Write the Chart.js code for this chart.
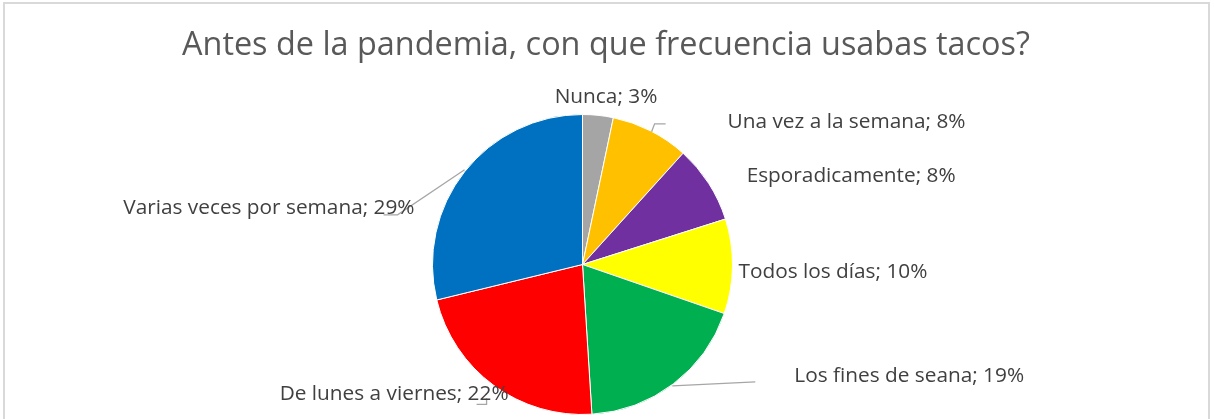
<!DOCTYPE html>
<html lang="es">
<head>
    <meta charset="UTF-8">
    <title>Antes de la pandemia</title>
    <script src="https://cdn.jsdelivr.net/npm/chart.js"></script>
    <style>
        body { margin: 0; background: #fff; }
        #wrap { position: relative; width: 1214px; height: 419px; }
    </style>
</head>
<body>
<div id="wrap">
    <canvas id="pieChart" width="1214" height="419"></canvas>
</div>
<script>
    // datos (porcentajes estimados de los angulos; la etiqueta muestra el redondeo)
    const categories = ['Nunca', 'Una vez a la semana', 'Esporadicamente', 'Todos los días',
        'Los fines de seana', 'De lunes a viernes', 'Varias veces por semana'];
    const percents = [3.3, 8.4, 8.4, 10.2, 18.7, 22.2, 28.8];
    const sliceColors = ['#A5A5A5', '#FFC000', '#7030A0', '#FFFF00', '#00B050', '#FF0000', '#0070C0'];
    const chartTitle = 'Antes de la pandemia, con que frecuencia usabas tacos?';

    // posicion de cada etiqueta, relativa al punto medio exterior de su porcion
    const labelOffsets = [
        {dx: 8, dy: -12, align: 'center'},
        {dx: 77, dy: -3, align: 'left'},
        {dx: 38, dy: -1, align: 'left'},
        {dx: 6, dy: 12, align: 'left'},
        {dx: 121, dy: -2, align: 'left'},
        {dx: 15, dy: 15, align: 'right'},
        {dx: -50, dy: 42, align: 'right'}
    ];
    // lineas guia (tambien relativas al punto medio exterior)
    const leaderLines = [
        null,
        [[1, 1], [4, -7], [15, -7]],
        null,
        null,
        [[-1, 2], [82, -2]],
        [[-7, 13], [-7, 19], [-17, 19]],
        [[0, -2], [-67, 43], [-81, 43]]
    ];

    const labelsPlugin = {
        id: 'excelLabels',
        beforeDraw(chart) {
            const c = chart.ctx;
            c.save();
            c.strokeStyle = '#D9D9D9';
            c.lineWidth = 2;
            c.strokeRect(4, 3, 1205, 430);
            c.restore();
        },
        afterDraw(chart) {
            const c = chart.ctx;
            c.save();
            // titulo
            c.fillStyle = '#595959';
            c.font = '32.4px "Open Sans"';
            c.textAlign = 'center';
            c.textBaseline = 'alphabetic';
            c.fillText(chartTitle, 606, 55);

            const meta = chart.getDatasetMeta(0);
            meta.data.forEach((arc, i) => {
                const mid = (arc.startAngle + arc.endAngle) / 2;
                const ax = arc.x + Math.cos(mid) * arc.outerRadius;
                const ay = arc.y + Math.sin(mid) * arc.outerRadius;

                if (leaderLines[i]) {
                    c.strokeStyle = '#A6A6A6';
                    c.lineWidth = 1.3;
                    c.beginPath();
                    leaderLines[i].forEach((p, k) => {
                        if (k === 0) c.moveTo(ax + p[0], ay + p[1]);
                        else c.lineTo(ax + p[0], ay + p[1]);
                    });
                    c.stroke();
                }

                const o = labelOffsets[i];
                c.fillStyle = '#404040';
                c.font = '20.8px "Open Sans"';
                c.textAlign = o.align;
                c.fillText(categories[i] + '; ' + Math.round(percents[i]) + '%', ax + o.dx, ay + o.dy);
            });
            c.restore();
        }
    };

    const ctx = document.getElementById('pieChart').getContext('2d');
    const pieChart = new Chart(ctx, {
        type: 'pie',
        data: {
            labels: categories,
            datasets: [{
                data: percents,
                backgroundColor: sliceColors,
                borderColor: '#FFFFFF',
                borderWidth: 1,
                hoverOffset: 0,
                offset: 0
            }]
        },
        options: {
            responsive: false,
            animation: false,
            events: [],
            layout: {
                padding: {left: 432, right: 481, top: 114, bottom: 4}
            },
            plugins: {
                legend: {display: false},
                tooltip: {enabled: false},
                title: {display: false}
            }
        },
        plugins: [labelsPlugin]
    });
</script>
</body>
</html>
